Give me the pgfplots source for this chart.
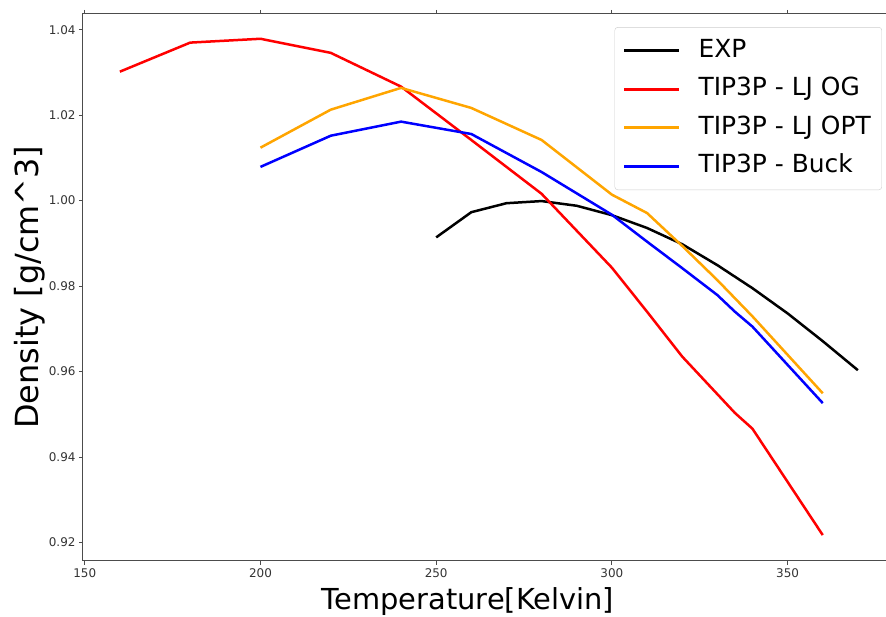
\documentclass[border=0pt]{standalone}
\usepackage{fontspec}
\setmainfont{DejaVu Sans}
\usepackage{pgfplots}
\pgfplotsset{compat=1.18}
\definecolor{mplorange}{RGB}{255,165,0}
\begin{document}
\begin{tikzpicture}
\begin{axis}[name=ax, scale only axis, width=803bp, height=546.7bp,
  xmin=149.5, xmax=378, ymin=0.9157, ymax=1.0437,
  xtick={150,200,250,300,350}, ytick={0.92,0.94,0.96,0.98,1.00,1.02,1.04},
  tick align=outside, major tick length=4bp, tick style={black!70, line width=0.8bp},
  axis line style={black!70, line width=1bp},
  ticklabel style={font=\fontsize{12}{14}\selectfont, text=black!80},
  /pgf/number format/assume math mode=true,
  yticklabel style={/pgf/number format/fixed, /pgf/number format/fixed zerofill, /pgf/number format/precision=2},
  xticklabel style={/pgf/number format/1000 sep={}},
  xlabel={Temperature[Kelvin]}, ylabel={Density [g/cm\textasciicircum 3]},
  xlabel style={font=\fontsize{29}{34}\selectfont, at={(rel axis cs:0.4795,-0.0896)}, anchor=base, inner sep=0pt},
  ylabel style={font=\fontsize{32}{38}\selectfont, at={(rel axis cs:-0.0473,0.5)}, anchor=south, inner sep=0pt},
  legend style={at={(rel axis cs:0.995,0.976)}, anchor=north east, draw=black!20, rounded corners=3bp,
    font=\fontsize{25}{30}\selectfont, row sep=9.5bp, inner xsep=8bp, inner ysep=9bp,
    nodes={inner sep=3bp, text height=18bp, text depth=5bp}},
  legend cell align=left,
  legend image code/.code={\draw[#1, line width=3bp] (0bp,0bp) -- (55bp,0bp); \path (70bp,0bp);},
  every axis plot/.append style={line width=2.5bp, line join=round},
]
\addplot[black] coordinates {(250,0.9914) (260,0.9973) (270,0.9994) (280,0.9999) (290,0.9988) (300,0.9966) (310,0.9936) (320,0.9898) (330,0.9849) (340,0.9795) (350,0.9736) (360,0.9671) (370,0.9603)};
\addlegendentry{EXP}
\addplot[red] coordinates {(160,1.0302) (180,1.0370) (200,1.0379) (220,1.0346) (240,1.0267) (260,1.0142) (280,1.0016) (300,0.9843) (310,0.9740) (320,0.9635) (335,0.9503) (340,0.9466) (360,0.9217)};
\addlegendentry{TIP3P - LJ OG}
\addplot[mplorange] coordinates {(200,1.0124) (220,1.0213) (240,1.0264) (260,1.0217) (280,1.0142) (300,1.0014) (310,0.9971) (320,0.9894) (330,0.9814) (340,0.9729) (360,0.9549)};
\addlegendentry{TIP3P - LJ OPT}
\addplot[blue] coordinates {(200,1.0079) (220,1.0152) (240,1.0185) (260,1.0156) (280,1.0067) (300,0.9967) (310,0.9904) (320,0.9842) (330,0.9779) (335,0.9740) (340,0.9705) (360,0.9526)};
\addlegendentry{TIP3P - Buck}
\end{axis}
\pgfresetboundingbox
\path ([shift={(-83bp,-56.3bp)}]ax.south west) rectangle ([shift={(0bp,14bp)}]ax.north east);
\end{tikzpicture}
\end{document}
